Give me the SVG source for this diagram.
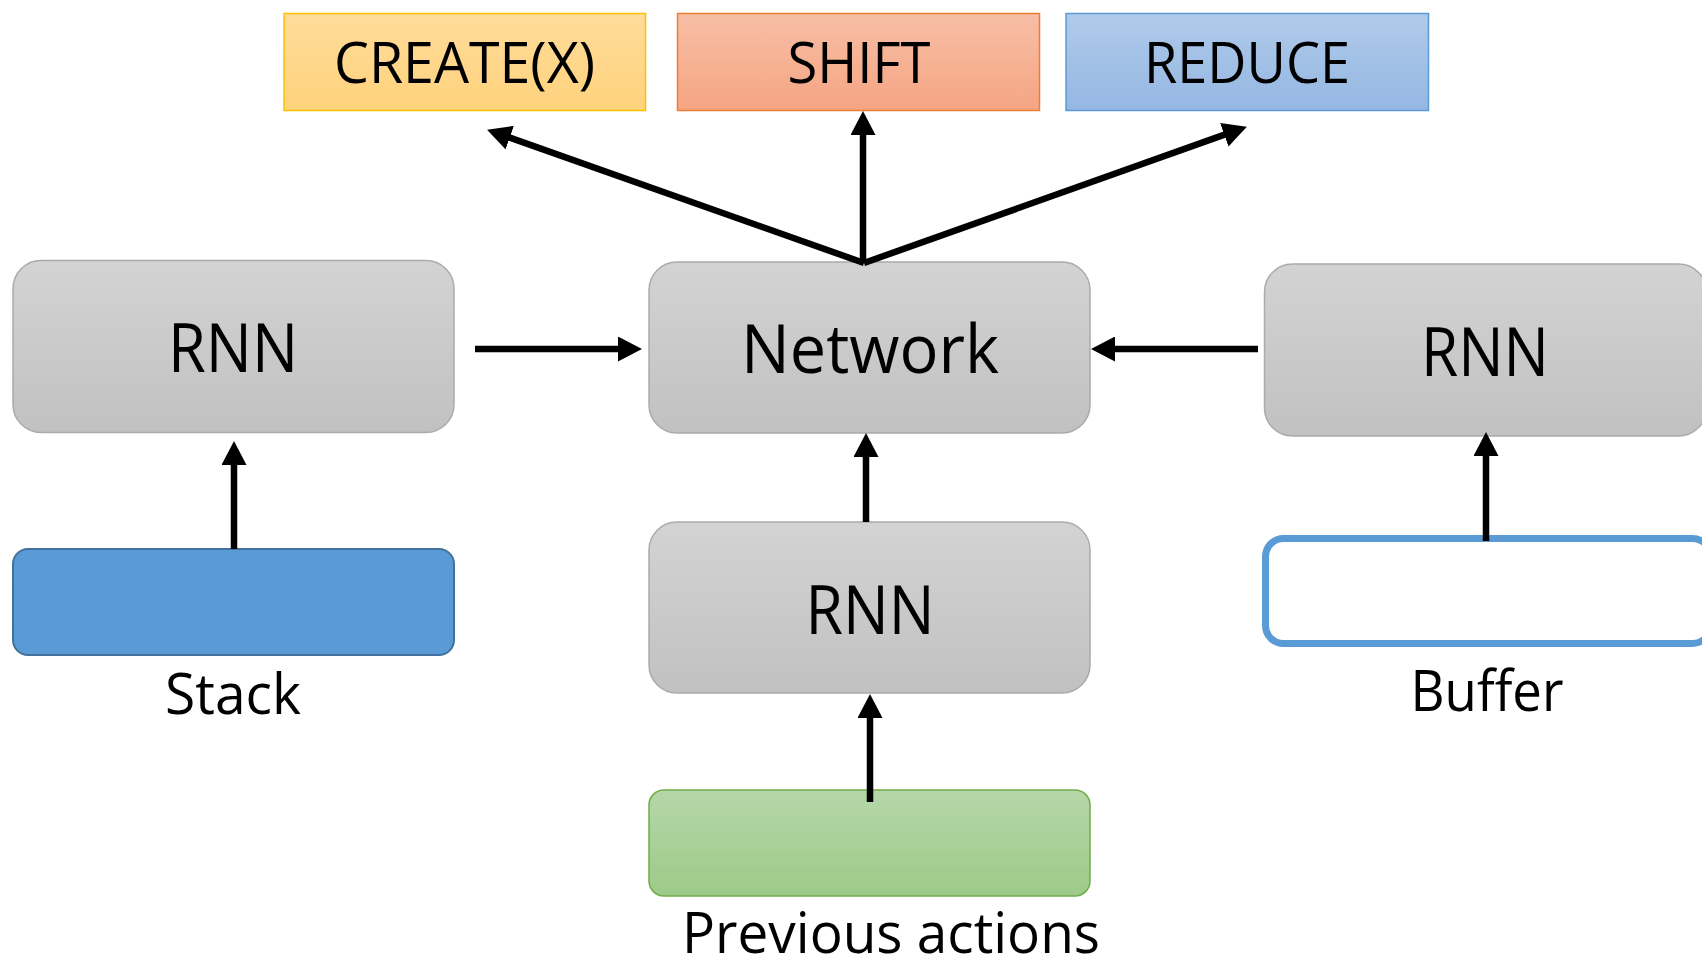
<svg xmlns="http://www.w3.org/2000/svg" width="1702" height="970" viewBox="0 0 1702 970">
  <defs>
    <linearGradient id="gGray" x1="0" y1="0" x2="0" y2="1">
      <stop offset="0" stop-color="#D3D3D3"/>
      <stop offset="1" stop-color="#C1C1C1"/>
    </linearGradient>
    <linearGradient id="gYellow" x1="0" y1="0" x2="0" y2="1">
      <stop offset="0" stop-color="#FFDC9B"/>
      <stop offset="1" stop-color="#FFD27C"/>
    </linearGradient>
    <linearGradient id="gOrange" x1="0" y1="0" x2="0" y2="1">
      <stop offset="0" stop-color="#F7BEA6"/>
      <stop offset="1" stop-color="#F5A582"/>
    </linearGradient>
    <linearGradient id="gBlue" x1="0" y1="0" x2="0" y2="1">
      <stop offset="0" stop-color="#B0CAEA"/>
      <stop offset="1" stop-color="#94B7E2"/>
    </linearGradient>
    <linearGradient id="gGreen" x1="0" y1="0" x2="0" y2="1">
      <stop offset="0" stop-color="#B6D7A9"/>
      <stop offset="1" stop-color="#9DCA88"/>
    </linearGradient>
    <marker id="head" markerUnits="userSpaceOnUse" markerWidth="25" markerHeight="25" refX="10" refY="12.5" orient="auto">
      <path d="M0,0 L24,12.5 L0,25 Z" fill="#000"/>
    </marker>
  </defs>
  <style>
    .gray { fill: url(#gGray); stroke: #ABABAB; stroke-width: 1.5; }
    .label { font-family: "Open Sans", "Liberation Sans", sans-serif; fill: #000; text-anchor: middle; }
    .big { font-size: 68px; }
    .small { font-size: 57px; }
    .conn { stroke: #000; stroke-width: 6.5; fill: none; marker-end: url(#head); }
  </style>

  <rect width="1702" height="970" fill="#FFFFFF"/>

  <!-- action outputs -->
  <g id="create">
    <rect x="284" y="13.5" width="361.5" height="97" fill="url(#gYellow)" stroke="#FFC000" stroke-width="1.5"/>
    <text class="label small" x="464.5" y="83" textLength="261" lengthAdjust="spacingAndGlyphs">CREATE(X)</text>
  </g>
  <g id="shift">
    <rect x="677.5" y="13.5" width="362" height="97" fill="url(#gOrange)" stroke="#ED7D31" stroke-width="1.5"/>
    <text class="label small" x="859" y="83" textLength="143" lengthAdjust="spacingAndGlyphs">SHIFT</text>
  </g>
  <g id="reduce">
    <rect x="1066" y="13.5" width="362.5" height="97" fill="url(#gBlue)" stroke="#5B9BD5" stroke-width="1.5"/>
    <text class="label small" x="1247" y="83" textLength="206" lengthAdjust="spacingAndGlyphs">REDUCE</text>
  </g>

  <!-- recurrent encoders and the central network -->
  <g id="rnn-stack">
    <rect class="gray" x="13" y="260.5" width="441" height="172" rx="28" ry="28"/>
    <text class="label big" x="233" y="372" textLength="130" lengthAdjust="spacingAndGlyphs">RNN</text>
  </g>
  <g id="network">
    <rect class="gray" x="649" y="262" width="441" height="171" rx="28" ry="28"/>
    <text class="label big" x="870" y="373" textLength="258" lengthAdjust="spacingAndGlyphs">Network</text>
  </g>
  <g id="rnn-buffer">
    <rect class="gray" x="1264.5" y="264" width="442" height="172" rx="28" ry="28"/>
    <text class="label big" x="1485" y="376" textLength="128" lengthAdjust="spacingAndGlyphs">RNN</text>
  </g>
  <g id="rnn-actions">
    <rect class="gray" x="649" y="522" width="441" height="171" rx="28" ry="28"/>
    <text class="label big" x="870" y="634" textLength="129" lengthAdjust="spacingAndGlyphs">RNN</text>
  </g>

  <!-- inputs -->
  <g id="stack">
    <rect x="13" y="549" width="441" height="106" rx="15" ry="15" fill="#5B9BD5" stroke="#41719C" stroke-width="2"/>
    <text class="label small" x="233" y="714" textLength="136" lengthAdjust="spacingAndGlyphs">Stack</text>
  </g>
  <g id="buffer">
    <rect x="1265.5" y="538.5" width="445" height="105" rx="18" ry="18" fill="#FFFFFF" stroke="#5B9BD5" stroke-width="7"/>
    <text class="label small" x="1487" y="711" textLength="153" lengthAdjust="spacingAndGlyphs">Buffer</text>
  </g>
  <g id="previous-actions">
    <rect x="649" y="790" width="441" height="106" rx="15" ry="15" fill="url(#gGreen)" stroke="#70AD47" stroke-width="1.5"/>
    <text class="label small" x="891" y="953" textLength="418" lengthAdjust="spacingAndGlyphs">Previous actions</text>
  </g>

  <!-- connectors -->
  <g id="connectors">
    <line class="conn" x1="234" y1="549" x2="234" y2="455"/>
    <line class="conn" x1="475" y1="349" x2="628" y2="349"/>
    <line class="conn" x1="1258" y1="349" x2="1105" y2="349"/>
    <line class="conn" x1="866" y1="522" x2="866" y2="447"/>
    <line class="conn" x1="870" y1="802" x2="870" y2="708"/>
    <line class="conn" x1="1486" y1="541" x2="1486" y2="446"/>
    <line class="conn" x1="864" y1="263" x2="500.3" y2="134.3"/>
    <line class="conn" x1="863" y1="263" x2="863" y2="125"/>
    <line class="conn" x1="864" y1="263" x2="1233.7" y2="131.4"/>
  </g>
</svg>
